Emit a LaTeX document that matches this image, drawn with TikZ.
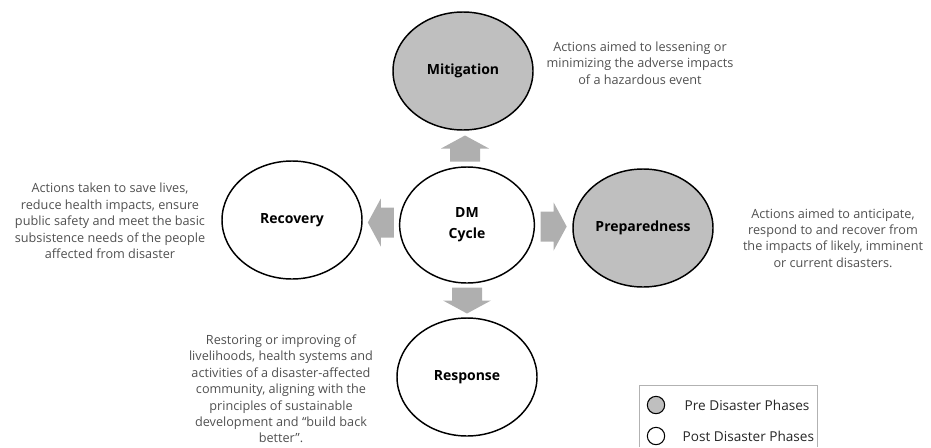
\documentclass[tikz,border=0pt]{standalone}
\usepackage{fontspec}
\setmainfont{Open Sans}
\usetikzlibrary{shapes.geometric,positioning,calc}

\definecolor{pregray}{RGB}{191,191,191}
\definecolor{arrowgray}{RGB}{175,175,175}
\definecolor{notegray}{RGB}{80,80,80}

\begin{document}
\begin{tikzpicture}[x=0.75pt, y=-0.75pt,
        phase/.style={ellipse, draw=black, line width=1.1pt, inner sep=0pt, align=center,
        minimum width=105pt, minimum height=88.5pt, text=black,
        font=\fontsize{10.5}{16}\selectfont\bfseries},
        pre/.style={phase, fill=pregray},
        post/.style={phase, fill=white},
        note/.style={align=center, text=notegray, font=\fontsize{9.5}{12.3}\selectfont},
        legmark/.style={circle, draw=black, line width=0.8pt, minimum size=13pt, inner sep=0pt},
        legtext/.style={anchor=west, text=black!85, font=\fontsize{10.2}{11}\selectfont},
        blockarrow/.pic={\fill[arrowgray] (-13,-15) -- (0,-15) -- (0,-24) -- (13,0) -- (0,24) -- (0,15) -- (-13,15) -- cycle;}]
        \useasboundingbox (0,0) rectangle (931,447);

        % phases
        \node [pre] (mit) at (463,71) {Mitigation};
        \node [post, minimum width=101pt, minimum height=87pt] (cyc) at (467,225) {DM\\Cycle};
        \node [pre] (prep) at (643,228) {Preparedness};
        \node [post] (rec) at (292,220) {Recovery};
        \node [post] (resp) at (467,377) {Response};

        % block arrows out of the cycle
        \pic [rotate=90] at ($(cyc.north)!0.5!(mit.south)$) {blockarrow};
        \pic at ($(cyc.east)!0.5!(prep.west)$) {blockarrow};
        \pic [rotate=180] at ($(cyc.west)!0.5!(rec.east)$) {blockarrow};
        \pic [rotate=-90] at ($(cyc.south)!0.5!(resp.north)$) {blockarrow};

        % descriptions
        \node [note] (mitnote) at (640,63)
        {Actions aimed to lessening or\\minimizing the adverse impacts\\of a hazardous event};
        \node [note] (recnote) at (110,221)
        {Actions taken to save lives,\\reduce health impacts, ensure\\public safety and meet the basic\\subsistence needs of the people\\affected from disaster};
        \node [note] (prepnote) at (833,238)
        {Actions aimed to anticipate,\\respond to and recover from\\the impacts of likely, imminent\\or current disasters.};
        \node [note] (respnote) at (281,389)
        {Restoring or improving of\\livelihoods, health systems and\\activities of a disaster-affected\\community, aligning with the\\principles of sustainable\\development and “build back\\better”.};

        % legend
        \draw [gray!60] (639,447) -- (639,385) -- (817,385) -- (817,447);
        \node [legmark, fill=pregray] (premark) at (656,405) {};
        \node [legmark, fill=white] (postmark) at (656,436) {};
        \node [legtext] (pretext) at (680,405) {Pre Disaster Phases};
        \node [legtext] (posttext) at (678,436) {Post Disaster Phases};
\end{tikzpicture}
\end{document}
